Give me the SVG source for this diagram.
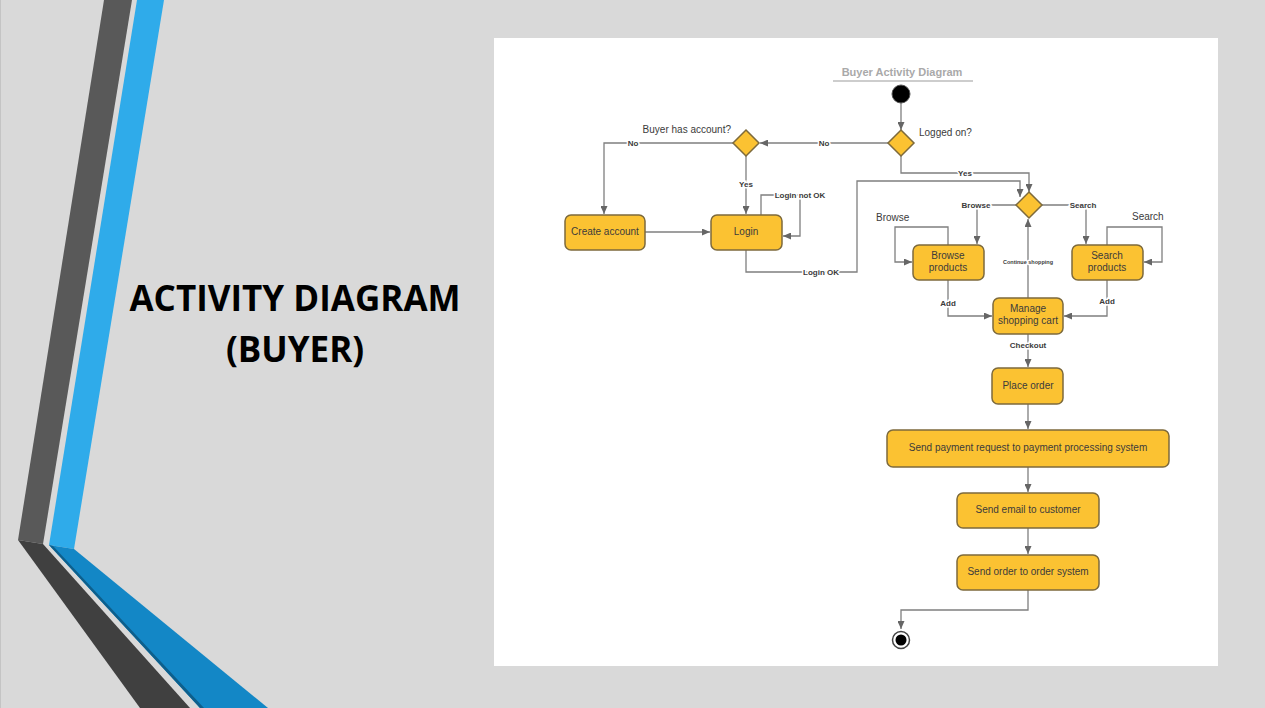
<svg xmlns="http://www.w3.org/2000/svg" width="1265" height="708" viewBox="0 0 1265 708">
<defs>
<style>
.node rect{fill:#fbc232;stroke:#7d6a3c;stroke-width:1.5}
.nt{font-family:"Liberation Sans",Arial,sans-serif;font-size:10px;fill:#3b3b3b;text-anchor:middle}
.lbl{font-family:"Liberation Sans",Arial,sans-serif;font-size:8px;font-weight:bold;fill:#3b3b3b;text-anchor:middle;stroke:#fff;stroke-width:3px;paint-order:stroke}
.q{font-family:"Liberation Sans",Arial,sans-serif;font-size:10px;fill:#3b3b3b}
.conn path{fill:none;stroke:#7f7f7f;stroke-width:1.3}
.dia{fill:#fbc232;stroke:#7d6a3c;stroke-width:1.5}
</style>
<marker id="ah" markerUnits="userSpaceOnUse" markerWidth="8" markerHeight="7" refX="8" refY="3.5" orient="auto">
<path d="M0,0 L8,3.5 L0,7 z" fill="#666"/>
</marker>
</defs>
<rect width="1265" height="708" fill="#d9d9d9"/>
<line x1="0.5" y1="0" x2="0.5" y2="708" stroke="#c4c4c4"/>
<g id="stripes">
<polygon points="104,0 132,0 43,544 18,540" fill="#595959"/>
<polygon points="137,0 164,0 74,549 49,545" fill="#2fabea"/>
<polygon points="18,540 43,544 190,708 140,708" fill="#404040"/>
<polygon points="49,545 74,549 268,708 200,708" fill="#1387c6"/>
<polygon points="49,545 53,546 204,708 200,708" fill="#0d5f8c"/>
</g>
<g id="slide-title" font-family="'Open Sans','Liberation Sans',sans-serif" font-weight="bold" font-size="35" fill="#000" text-anchor="middle">
<text x="295" y="311">ACTIVITY DIAGRAM</text>
<text x="295" y="362">(BUYER)</text>
</g>
<rect x="494" y="38" width="724" height="628" fill="#fff"/>
<g id="diagram-title">
<text x="902" y="76" font-family="'Liberation Sans',Arial,sans-serif" font-size="11" font-weight="bold" fill="#a9a9a9" text-anchor="middle">Buyer Activity Diagram</text>
<line x1="833" y1="81" x2="973" y2="81" stroke="#bdbdbd" stroke-width="1.3"/>
</g>
<g class="conn" id="connectors">
<path d="M901,103 V130" marker-end="url(#ah)"/>
<path d="M888,143 H760" marker-end="url(#ah)"/>
<path d="M733,143 H604 V214" marker-end="url(#ah)"/>
<path d="M746,156 V214" marker-end="url(#ah)"/>
<path d="M645,232 H710" marker-end="url(#ah)"/>
<path d="M761,215 V195 H800 V236 H783" marker-end="url(#ah)"/>
<path d="M746,250 V272 H857 V181 H1020 V197" marker-end="url(#ah)"/>
<path d="M901,156 V173 H1029 V192" marker-end="url(#ah)"/>
<path d="M1016,205 H977 V244" marker-end="url(#ah)"/>
<path d="M1042,205 H1086 V244" marker-end="url(#ah)"/>
<path d="M948,245 V227 H895 V262 H912" marker-end="url(#ah)"/>
<path d="M1107,245 V227 H1162 V262 H1144" marker-end="url(#ah)"/>
<path d="M948,280 V316 H992" marker-end="url(#ah)"/>
<path d="M1107,280 V316 H1064" marker-end="url(#ah)"/>
<path d="M1028,298 V219" marker-end="url(#ah)"/>
<path d="M1028,334 V367" marker-end="url(#ah)"/>
<path d="M1028,404 V429" marker-end="url(#ah)"/>
<path d="M1028,467 V492" marker-end="url(#ah)"/>
<path d="M1028,528 V554" marker-end="url(#ah)"/>
<path d="M1028,590 V610 H901 V629" marker-end="url(#ah)"/>
<text class="lbl" x="824" y="146">No</text>
<text class="lbl" x="633" y="146">No</text>
<text class="lbl" x="746" y="187">Yes</text>
<text class="lbl" x="800" y="198">Login not OK</text>
<text class="lbl" x="821" y="275">Login OK</text>
<text class="lbl" x="965" y="176">Yes</text>
<text class="lbl" x="976" y="208">Browse</text>
<text class="lbl" x="1083" y="208">Search</text>
<text class="lbl" x="948" y="306">Add</text>
<text class="lbl" x="1107" y="304">Add</text>
<text class="lbl" x="1028" y="264" style="font-size:5.5px">Continue shopping</text>
<text class="lbl" x="1028" y="348">Checkout</text>
</g>
<g id="start"><circle cx="901" cy="94" r="9" fill="#000" stroke="#555" stroke-width="1"/></g>
<g id="logged-on"><polygon class="dia" points="901,130 914,143 901,156 888,143"/><text class="q" x="919" y="136">Logged on?</text></g>
<g id="has-account"><polygon class="dia" points="746,130 759,143 746,156 733,143"/><text class="q" x="731" y="133" text-anchor="end">Buyer has account?</text></g>
<g id="shop-choice"><polygon class="dia" points="1029,192 1042,205 1029,218 1016,205"/></g>
<g class="node" id="create-account"><rect x="565" y="215" width="80" height="35" rx="6"/><text class="nt" x="605" y="235">Create account</text></g>
<g class="node" id="login"><rect x="711" y="215" width="71" height="35" rx="6"/><text class="nt" x="746" y="235">Login</text></g>
<g class="node" id="browse-products"><rect x="913" y="245" width="71" height="35" rx="6"/><text class="nt" x="948" y="259">Browse</text><text class="nt" x="948" y="271">products</text><text class="q" x="876" y="221">Browse</text></g>
<g class="node" id="search-products"><rect x="1072" y="245" width="71" height="35" rx="6"/><text class="nt" x="1107" y="259">Search</text><text class="nt" x="1107" y="271">products</text><text class="q" x="1132" y="220">Search</text></g>
<g class="node" id="manage-cart"><rect x="993" y="298" width="70" height="36" rx="6"/><text class="nt" x="1028" y="312">Manage</text><text class="nt" x="1028" y="324">shopping cart</text></g>
<g class="node" id="place-order"><rect x="992" y="368" width="71" height="36" rx="6"/><text class="nt" x="1028" y="389">Place order</text></g>
<g class="node" id="send-payment"><rect x="887" y="430" width="282" height="37" rx="6"/><text class="nt" x="1028" y="451">Send payment request to payment processing system</text></g>
<g class="node" id="send-email"><rect x="957" y="493" width="142" height="35" rx="6"/><text class="nt" x="1028" y="513">Send email to customer</text></g>
<g class="node" id="send-order"><rect x="957" y="555" width="142" height="35" rx="6"/><text class="nt" x="1028" y="575">Send order to order system</text></g>
<g id="end"><circle cx="901" cy="640" r="8.5" fill="#fff" stroke="#444" stroke-width="1.5"/><circle cx="901" cy="640" r="5.5" fill="#000"/></g>
</svg>
